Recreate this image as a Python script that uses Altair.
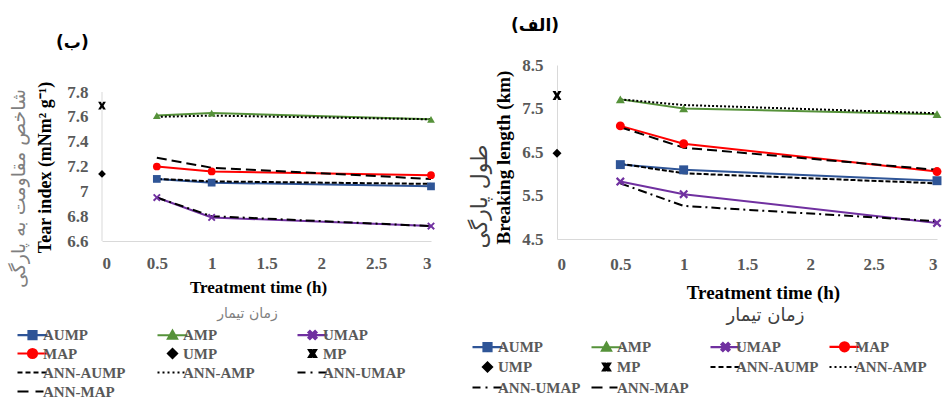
import math
import altair as alt
import pandas as pd

# ---------------- data ----------------
times = [0.5, 1.0, 3.0]
control_time = [0.0]

# (ب) Tear index (mNm2 g-1)
tear_AUMP = [7.10, 7.07, 7.04]
tear_AMP = [7.61, 7.63, 7.58]
tear_UMAP = [6.95, 6.79, 6.72]
tear_MAP = [7.20, 7.16, 7.13]
tear_UMP = [7.14]
tear_MP = [7.69]
tear_ANN_AUMP = [7.10, 7.08, 7.06]
tear_ANN_AMP = [7.60, 7.61, 7.58]
tear_ANN_UMAP = [6.95, 6.80, 6.72]
tear_ANN_MAP = [7.27, 7.19, 7.10]

# (الف) Breaking length (km)
bl_AUMP = [6.21, 6.09, 5.84]
bl_AMP = [7.71, 7.50, 7.37]
bl_UMAP = [5.82, 5.53, 4.87]
bl_MAP = [7.10, 6.69, 6.05]
bl_UMP = [6.47]
bl_MP = [7.80]
bl_ANN_AUMP = [6.23, 6.01, 5.78]
bl_ANN_AMP = [7.71, 7.58, 7.39]
bl_ANN_UMAP = [5.78, 5.26, 4.91]
bl_ANN_MAP = [7.07, 6.60, 6.09]

x_ticks = [0, 0.5, 1, 1.5, 2, 2.5, 3]
tear_ticks = [6.6, 6.8, 7.0, 7.2, 7.4, 7.6, 7.8]
bl_ticks = [4.5, 5.5, 6.5, 7.5, 8.5]

exp_series = ["AUMP", "AMP", "UMAP", "MAP"]
ctrl_series = ["UMP", "MP"]
ann_series = ["ANN-AUMP", "ANN-AMP", "ANN-UMAP", "ANN-MAP"]
legend_series = exp_series + ctrl_series + ann_series


def build_frame(exp_vals, ctrl_vals, ann_vals):
    rows = []
    for name, vals in zip(exp_series, exp_vals):
        for t, v in zip(times, vals):
            rows.append({"series": name, "group": "exp", "time": t, "value": v})
    for name, vals in zip(ctrl_series, ctrl_vals):
        for t, v in zip(control_time, vals):
            rows.append({"series": name, "group": "ctrl", "time": t, "value": v})
    for name, vals in zip(ann_series, ann_vals):
        for t, v in zip(times, vals):
            rows.append({"series": name, "group": "ann", "time": t, "value": v})
    return pd.DataFrame(rows)


tear_df = build_frame(
    [tear_AUMP, tear_AMP, tear_UMAP, tear_MAP],
    [tear_UMP, tear_MP],
    [tear_ANN_AUMP, tear_ANN_AMP, tear_ANN_UMAP, tear_ANN_MAP],
)
bl_df = build_frame(
    [bl_AUMP, bl_AMP, bl_UMAP, bl_MAP],
    [bl_UMP, bl_MP],
    [bl_ANN_AUMP, bl_ANN_AMP, bl_ANN_UMAP, bl_ANN_MAP],
)

# ---------------- styles ----------------
SERIF = "Liberation Serif"
AR_FONT = "DejaVu Sans"
AXIS_GRAY = "#D9D9D9"
BLUE, GREEN, PURPLE, RED, BLACK = "#2F5597", "#56923A", "#7030A0", "#FF0000", "#000000"
marker_colors = [BLUE, GREEN, PURPLE, RED, BLACK, BLACK]
legend_colors = [BLUE, GREEN, PURPLE, RED, BLACK, BLACK, BLACK, BLACK, BLACK, BLACK]
dash_styles = [[5, 2], [2, 2], [9, 4, 2, 4], [10, 5]]

X_SHAPE = "M-1,-0.65L-0.35,0L-1,0.65L-0.65,1L0,0.35L0.65,1L1,0.65L0.35,0L1,-0.65L0.65,-1L0,-0.35L-0.65,-1Z"
HOURGLASS = "M-1,-1H-0.3L0,-0.45L0.3,-1H1L0.4,0L1,1H0.3L0,0.45L-0.3,1H-1L-0.4,0Z"
marker_shapes = ["square", "triangle-up", X_SHAPE, "circle", "diamond", HOURGLASS]

# legend symbols: line sample 30px wide with marker in the middle
LEG_SIZE = 256
R = math.sqrt(LEG_SIZE) / 2


def u(px):
    return f"{px / R - 1:.3f}"


def v(py):
    return f"{py / R:.3f}"


def segs(pairs):
    return "".join(f"M{u(a)},0H{u(b)}" for a, b in pairs)


def poly(pts):
    return "M" + "L".join(f"{u(x)},{v(y)}" for x, y in pts) + "Z"


def circle(cx, rr):
    return (f"M{u(cx + rr)},0A{rr / R:.3f},{rr / R:.3f} 0 1,1 {u(cx - rr)},0"
            f"A{rr / R:.3f},{rr / R:.3f} 0 1,1 {u(cx + rr)},0Z")


C = 15
line_full = segs([(0, 30)])
xs_pts = [(-1, -0.65), (-0.35, 0), (-1, 0.65), (-0.65, 1), (0, 0.35), (0.65, 1), (1, 0.65),
          (0.35, 0), (1, -0.65), (0.65, -1), (0, -0.35), (-0.65, -1)]
hg_pts = [(-1, -1), (-0.3, -1), (0, -0.45), (0.3, -1), (1, -1), (0.4, 0), (1, 1), (0.3, 1),
          (0, 0.45), (-0.3, 1), (-1, 1), (-0.4, 0)]
legend_paths = [
    line_full + poly([(C - 4, -4), (C + 4, -4), (C + 4, 4), (C - 4, 4)]),
    line_full + poly([(C, -4.5), (C + 4.5, 3.5), (C - 4.5, 3.5)]),
    line_full + poly([(C + 4 * a, 4 * b) for a, b in xs_pts]),
    line_full + circle(C, 4.5),
    poly([(C, -4.5), (C + 4.5, 0), (C, 4.5), (C - 4.5, 0)]),
    poly([(C + 3.5 * a, 3.5 * b) for a, b in hg_pts]),
    segs([(0, 5), (8, 13), (16, 21), (24, 29)]),
    segs([(0, 2), (5, 7), (10, 12), (15, 17), (20, 22), (25, 27)]),
    segs([(0, 8), (13, 15), (21, 29)]),
    segs([(0, 11), (18, 26)]),
]


def panel(df, ydom, yticks, w, h, ytitle, ytitle_ar, xtitle_ar, title_text, title_offset,
          tick_size, xlabel_pad, ytitle_cfg, xtitle_cfg, ar_y, ar_x, msize, legend_cfg, ydomain_line):
    xs = alt.Scale(domain=[0, 3], nice=False, zero=False)
    ys = alt.Scale(domain=ydom, nice=False, zero=False)
    xenc = alt.X("time:Q", scale=xs, axis=alt.Axis(
        values=x_ticks, format="~g", title="Treatment time (h)", grid=False, ticks=False,
        domainColor=AXIS_GRAY, labelFont=SERIF, labelFontSize=tick_size, labelFontWeight="bold",
        labelColor="#595959", labelPadding=xlabel_pad, titleFont=SERIF, titleFontSize=xtitle_cfg["size"],
        titleFontWeight="bold", titleColor="black", titleBaseline="middle",
        titleX=xtitle_cfg["x"], titleY=xtitle_cfg["y"]))
    yenc = alt.Y("value:Q", scale=ys, axis=alt.Axis(
        values=yticks, format=".1~f", title=ytitle, grid=False, ticks=False,
        domain=ydomain_line, domainColor=AXIS_GRAY, labelFont=SERIF, labelFontSize=tick_size,
        labelFontWeight="bold", labelColor="#595959", labelPadding=14, titleFont=SERIF,
        titleFontSize=ytitle_cfg["size"], titleFontWeight="bold", titleColor="black",
        titleBaseline="middle", titleX=ytitle_cfg["x"], titleY=ytitle_cfg["y"]))
    base = alt.Chart(df)
    color = alt.Color("series:N", scale=alt.Scale(domain=exp_series + ctrl_series, range=marker_colors),
                      legend=None)
    lines = base.transform_filter(alt.FieldEqualPredicate(field="group", equal="exp")).mark_line(
        strokeWidth=2).encode(x=xenc, y=yenc, color=color)
    ann = base.transform_filter(alt.FieldEqualPredicate(field="group", equal="ann")).mark_line(
        strokeWidth=2, color="black").encode(
        x=xenc, y=yenc,
        strokeDash=alt.StrokeDash("series:N", scale=alt.Scale(domain=ann_series, range=dash_styles),
                                  legend=None))
    pts = base.transform_filter(alt.FieldOneOfPredicate(field="group", oneOf=["exp", "ctrl"])).mark_point(
        filled=True, opacity=1, size=msize).encode(
        x=xenc, y=yenc, color=color,
        shape=alt.Shape("series:N", scale=alt.Scale(domain=exp_series + ctrl_series, range=marker_shapes),
                        legend=None))
    layers = [lines, ann, pts]
    if not ydomain_line:
        # the value axis line spans only the tick range
        span = pd.DataFrame({"value": [yticks[0]], "value2": [yticks[-1]]})
        layers.insert(0, alt.Chart(span).mark_rule(color=AXIS_GRAY, strokeWidth=1).encode(
            x=alt.value(0), y=yenc, y2=alt.Y2("value2:Q")))
    inner = alt.layer(*layers)

    ar = base.mark_point(opacity=0).encode(
        x=alt.X("time:Q", scale=xs, axis=alt.Axis(
            orient="bottom", title=xtitle_ar, labels=False, ticks=False, domain=False, grid=False,
            titleFont=AR_FONT, titleFontSize=ar_x["size"], titleFontWeight="normal",
            titleColor=ar_x["color"], titleBaseline="middle", titleX=ar_x["x"], titleY=ar_x["y"])),
        y=alt.Y("value:Q", scale=ys, axis=alt.Axis(
            orient="left", title=ytitle_ar, labels=False, ticks=False, domain=False, grid=False,
            titleFont=AR_FONT, titleFontSize=ar_y["size"], titleFontWeight="normal",
            titleColor=ar_y["color"], titleBaseline="middle", titleX=ar_y["x"], titleY=ar_y["y"])),
    )

    leg = alt.Legend(
        title=None, orient="none", legendX=legend_cfg["x"], legendY=legend_cfg["y"],
        direction="horizontal", columns=legend_cfg["columns"], gridAlign="all",
        columnPadding=legend_cfg["colpad"], rowPadding=legend_cfg["rowpad"], padding=0,
        symbolSize=LEG_SIZE, symbolStrokeWidth=2.2, symbolOpacity=1, labelOffset=8,
        labelFont=SERIF, labelFontSize=15, labelFontWeight="bold", labelColor="#595959")
    legend_layer = base.transform_filter("false").mark_point(filled=True, opacity=1).encode(
        fill=alt.Fill("series:N", scale=alt.Scale(domain=legend_series, range=legend_colors), legend=leg),
        stroke=alt.Stroke("series:N", scale=alt.Scale(domain=legend_series, range=legend_colors), legend=leg),
        shape=alt.Shape("series:N", scale=alt.Scale(domain=legend_series, range=legend_paths), legend=leg),
    )

    return alt.layer(inner, ar, legend_layer).resolve_scale(
        x="independent", y="independent", shape="independent", fill="independent", stroke="independent"
    ).properties(
        width=w, height=h,
        title=alt.TitleParams(text=title_text, anchor="start", frame="group", dx=-46,
                              offset=title_offset, font=AR_FONT, fontSize=17, fontWeight="bold",
                              color="black", lineHeight=20),
    )


# left panel: the plot box starts at the same top as the right one; the value range
# 6.6-7.8 occupies its lower 149 px
LEFT_H = 176
left_top = tear_ticks[0] + (tear_ticks[-1] - tear_ticks[0]) * LEFT_H / 149

left = panel(
    tear_df, [tear_ticks[0], left_top], tear_ticks, 329, LEFT_H,
    "Tear index (mNm² g⁻¹)", "شاخص مقاومت به پارگی", "زمان تیمار",
    "(ب)", 13, 17, 14,
    {"size": 18, "x": -57, "y": 102},
    {"size": 17, "x": 156, "y": 46},
    {"size": 19, "color": "#7F7F7F", "x": -84, "y": 123},
    {"size": 14, "color": "#7F7F7F", "x": 145, "y": 72},
    60,
    {"x": -86, "y": 260, "columns": 3, "colpad": 27, "rowpad": -0.3},
    False,
)
right = panel(
    bl_df, [4.5, 8.5], bl_ticks, 380, 174,
    "Breaking length (km)", "طول پارگی", "زمان تیمار",
    "(الف)", 21, 17, 17,
    {"size": 19, "x": -54, "y": 92},
    {"size": 19, "x": 206, "y": 53},
    {"size": 22, "color": "#404040", "x": -78, "y": 131},
    {"size": 18, "color": "#404040", "x": 208, "y": 76},
    80,
    {"x": -86, "y": 272, "columns": 4, "colpad": 6, "rowpad": 1.5},
    True,
)

chart = alt.hconcat(left, right, spacing=32).resolve_scale(
    color="independent", fill="independent", stroke="independent",
    shape="independent", strokeDash="independent",
).properties(
    padding={"left": 8, "top": 17, "right": 0, "bottom": 0},
    background="white",
).configure_view(stroke=None)

chart.save("out.html", embed_options={"renderer": "svg", "actions": False})
